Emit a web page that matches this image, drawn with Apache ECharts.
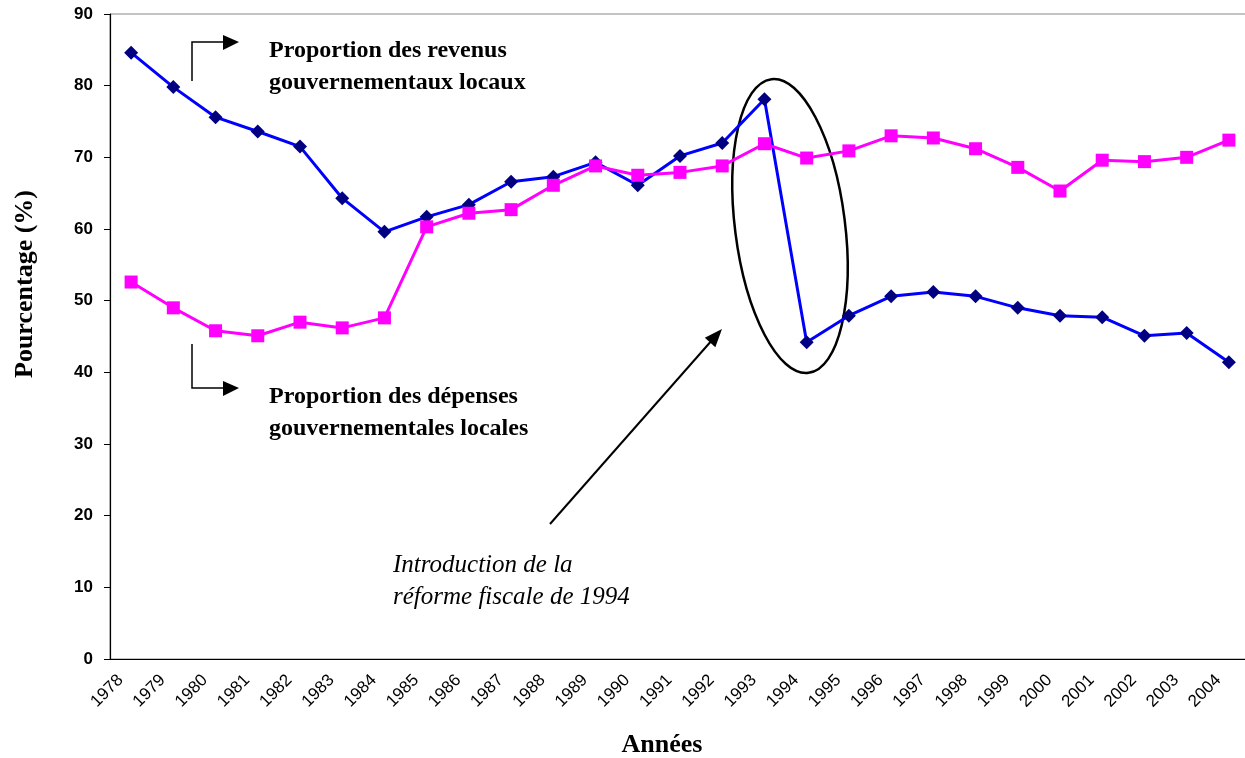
<!DOCTYPE html>
<html>
<head>
<meta charset="utf-8">
<script src="https://cdn.jsdelivr.net/npm/echarts@6/dist/echarts.min.js"></script>
<style>
html,body{margin:0;padding:0;background:#fff;}
#main{width:1245px;height:758px;}
</style>
</head>
<body>
<div id="main"></div>
<script>
var annees = ['1978','1979','1980','1981','1982','1983','1984','1985','1986','1987','1988','1989','1990','1991','1992','1993','1994','1995','1996','1997','1998','1999','2000','2001','2002','2003','2004'];
var revenus = [84.6, 79.8, 75.6, 73.6, 71.5, 64.3, 59.6, 61.7, 63.4, 66.6, 67.3, 69.3, 66.1, 70.2, 72.0, 78.1, 44.2, 47.9, 50.6, 51.2, 50.6, 49.0, 47.9, 47.7, 45.1, 45.5, 41.4];
var depenses = [52.6, 49.0, 45.8, 45.1, 47.0, 46.2, 47.6, 60.3, 62.2, 62.7, 66.1, 68.8, 67.5, 67.9, 68.8, 71.9, 69.9, 70.9, 73.0, 72.7, 71.2, 68.6, 65.3, 69.6, 69.4, 70.0, 72.4];

var serif = '"Liberation Serif", "Times New Roman", serif';
var sans = '"Liberation Sans", Arial, sans-serif';

var chart = echarts.init(document.getElementById('main'));

// tete de fleche a partir de la pointe et de la direction
function arrowHead(tip, from, len, half){
    var dx = tip[0]-from[0], dy = tip[1]-from[1];
    var d = Math.sqrt(dx*dx+dy*dy);
    dx/=d; dy/=d;
    var bx = tip[0]-dx*len, by = tip[1]-dy*len;
    return [tip, [bx-dy*half, by+dx*half], [bx+dy*half, by-dx*half]];
}

var option = {
    animation: false,
    grid: {
        left: 110,
        top: 14,
        width: 1140,
        height: 645,
        outerBoundsMode: 'none',
        show: true,
        borderColor: '#888',
        borderWidth: 1
    },
    xAxis: {
        type: 'category',
        data: annees,
        boundaryGap: true,
        axisLine: { lineStyle: { color: '#000', width: 1.2 } },
        axisTick: { length: 5, lineStyle: { color: '#000' } },
        axisLabel: {
            rotate: 45,
            interval: 0,
            color: '#000',
            fontFamily: sans,
            fontSize: 17,
            margin: 8,
            padding: [0, 15, 0, 0]
        }
    },
    yAxis: {
        type: 'value',
        min: 0,
        max: 90,
        interval: 10,
        axisLine: { show: true, lineStyle: { color: '#000', width: 1.2 } },
        axisTick: { show: true, length: 6, lineStyle: { color: '#000' } },
        splitLine: { show: false },
        axisLabel: {
            color: '#000',
            fontFamily: sans,
            fontWeight: 'bold',
            fontSize: 17,
            margin: 17
        }
    },
    series: [
        {
            name: 'revenus',
            type: 'line',
            data: revenus,
            symbol: 'diamond',
            symbolSize: 14,
            lineStyle: { color: '#0000ff', width: 3 },
            itemStyle: { color: '#000080' }
        },
        {
            name: 'depenses',
            type: 'line',
            data: depenses,
            symbol: 'rect',
            symbolSize: 13,
            lineStyle: { color: '#ff00ff', width: 3 },
            itemStyle: { color: '#ff00ff' }
        }
    ],
    graphic: [
        // crochets
        { type: 'polyline', shape: { points: [[192,81],[192,42],[224,42]] }, style: { stroke: '#000', lineWidth: 1.5, fill: null } },
        { type: 'polygon', shape: { points: [[223,35],[239,42],[223,50]] }, style: { fill: '#000' } },
        { type: 'polyline', shape: { points: [[192,344],[192,388],[224,388]] }, style: { stroke: '#000', lineWidth: 1.5, fill: null } },
        { type: 'polygon', shape: { points: [[223,381],[239,388],[223,396]] }, style: { fill: '#000' } },
        // fleche diagonale
        { type: 'line', shape: { x1: 550, y1: 524, x2: 713, y2: 339 }, style: { stroke: '#000', lineWidth: 2 } },
        { type: 'polygon', shape: { points: arrowHead([722,329],[550,524],18,7) }, style: { fill: '#000' } },
        // ellipse
        { type: 'ellipse', x: 790, y: 226, rotation: 0.126, shape: { cx: 0, cy: 0, rx: 55, ry: 148 }, style: { stroke: '#000', lineWidth: 2.5, fill: null } },
        // textes
        { type: 'text', x: 269, y: 51, style: { text: 'Proportion des revenus', font: 'bold 24px ' + serif, fill: '#000', verticalAlign: 'middle' } },
        { type: 'text', x: 269, y: 83, style: { text: 'gouvernementaux locaux', font: 'bold 24px ' + serif, fill: '#000', verticalAlign: 'middle' } },
        { type: 'text', x: 269, y: 397, style: { text: 'Proportion des dépenses', font: 'bold 24px ' + serif, fill: '#000', verticalAlign: 'middle' } },
        { type: 'text', x: 269, y: 429, style: { text: 'gouvernementales locales', font: 'bold 24px ' + serif, fill: '#000', verticalAlign: 'middle' } },
        { type: 'text', x: 393, y: 565, style: { text: 'Introduction de la', font: 'italic 25px ' + serif, fill: '#000', verticalAlign: 'middle' } },
        { type: 'text', x: 393, y: 597, style: { text: 'réforme fiscale de 1994', font: 'italic 25px ' + serif, fill: '#000', verticalAlign: 'middle' } },
        { type: 'text', x: 662, y: 745, style: { text: 'Années', font: 'bold 26px ' + serif, fill: '#000', align: 'center', verticalAlign: 'middle' } },
        { type: 'text', x: 25, y: 284, rotation: Math.PI/2, style: { text: 'Pourcentage (%)', font: 'bold 26px ' + serif, fill: '#000', align: 'center', verticalAlign: 'middle' } }
    ]
};
chart.setOption(option);
</script>
</body>
</html>
